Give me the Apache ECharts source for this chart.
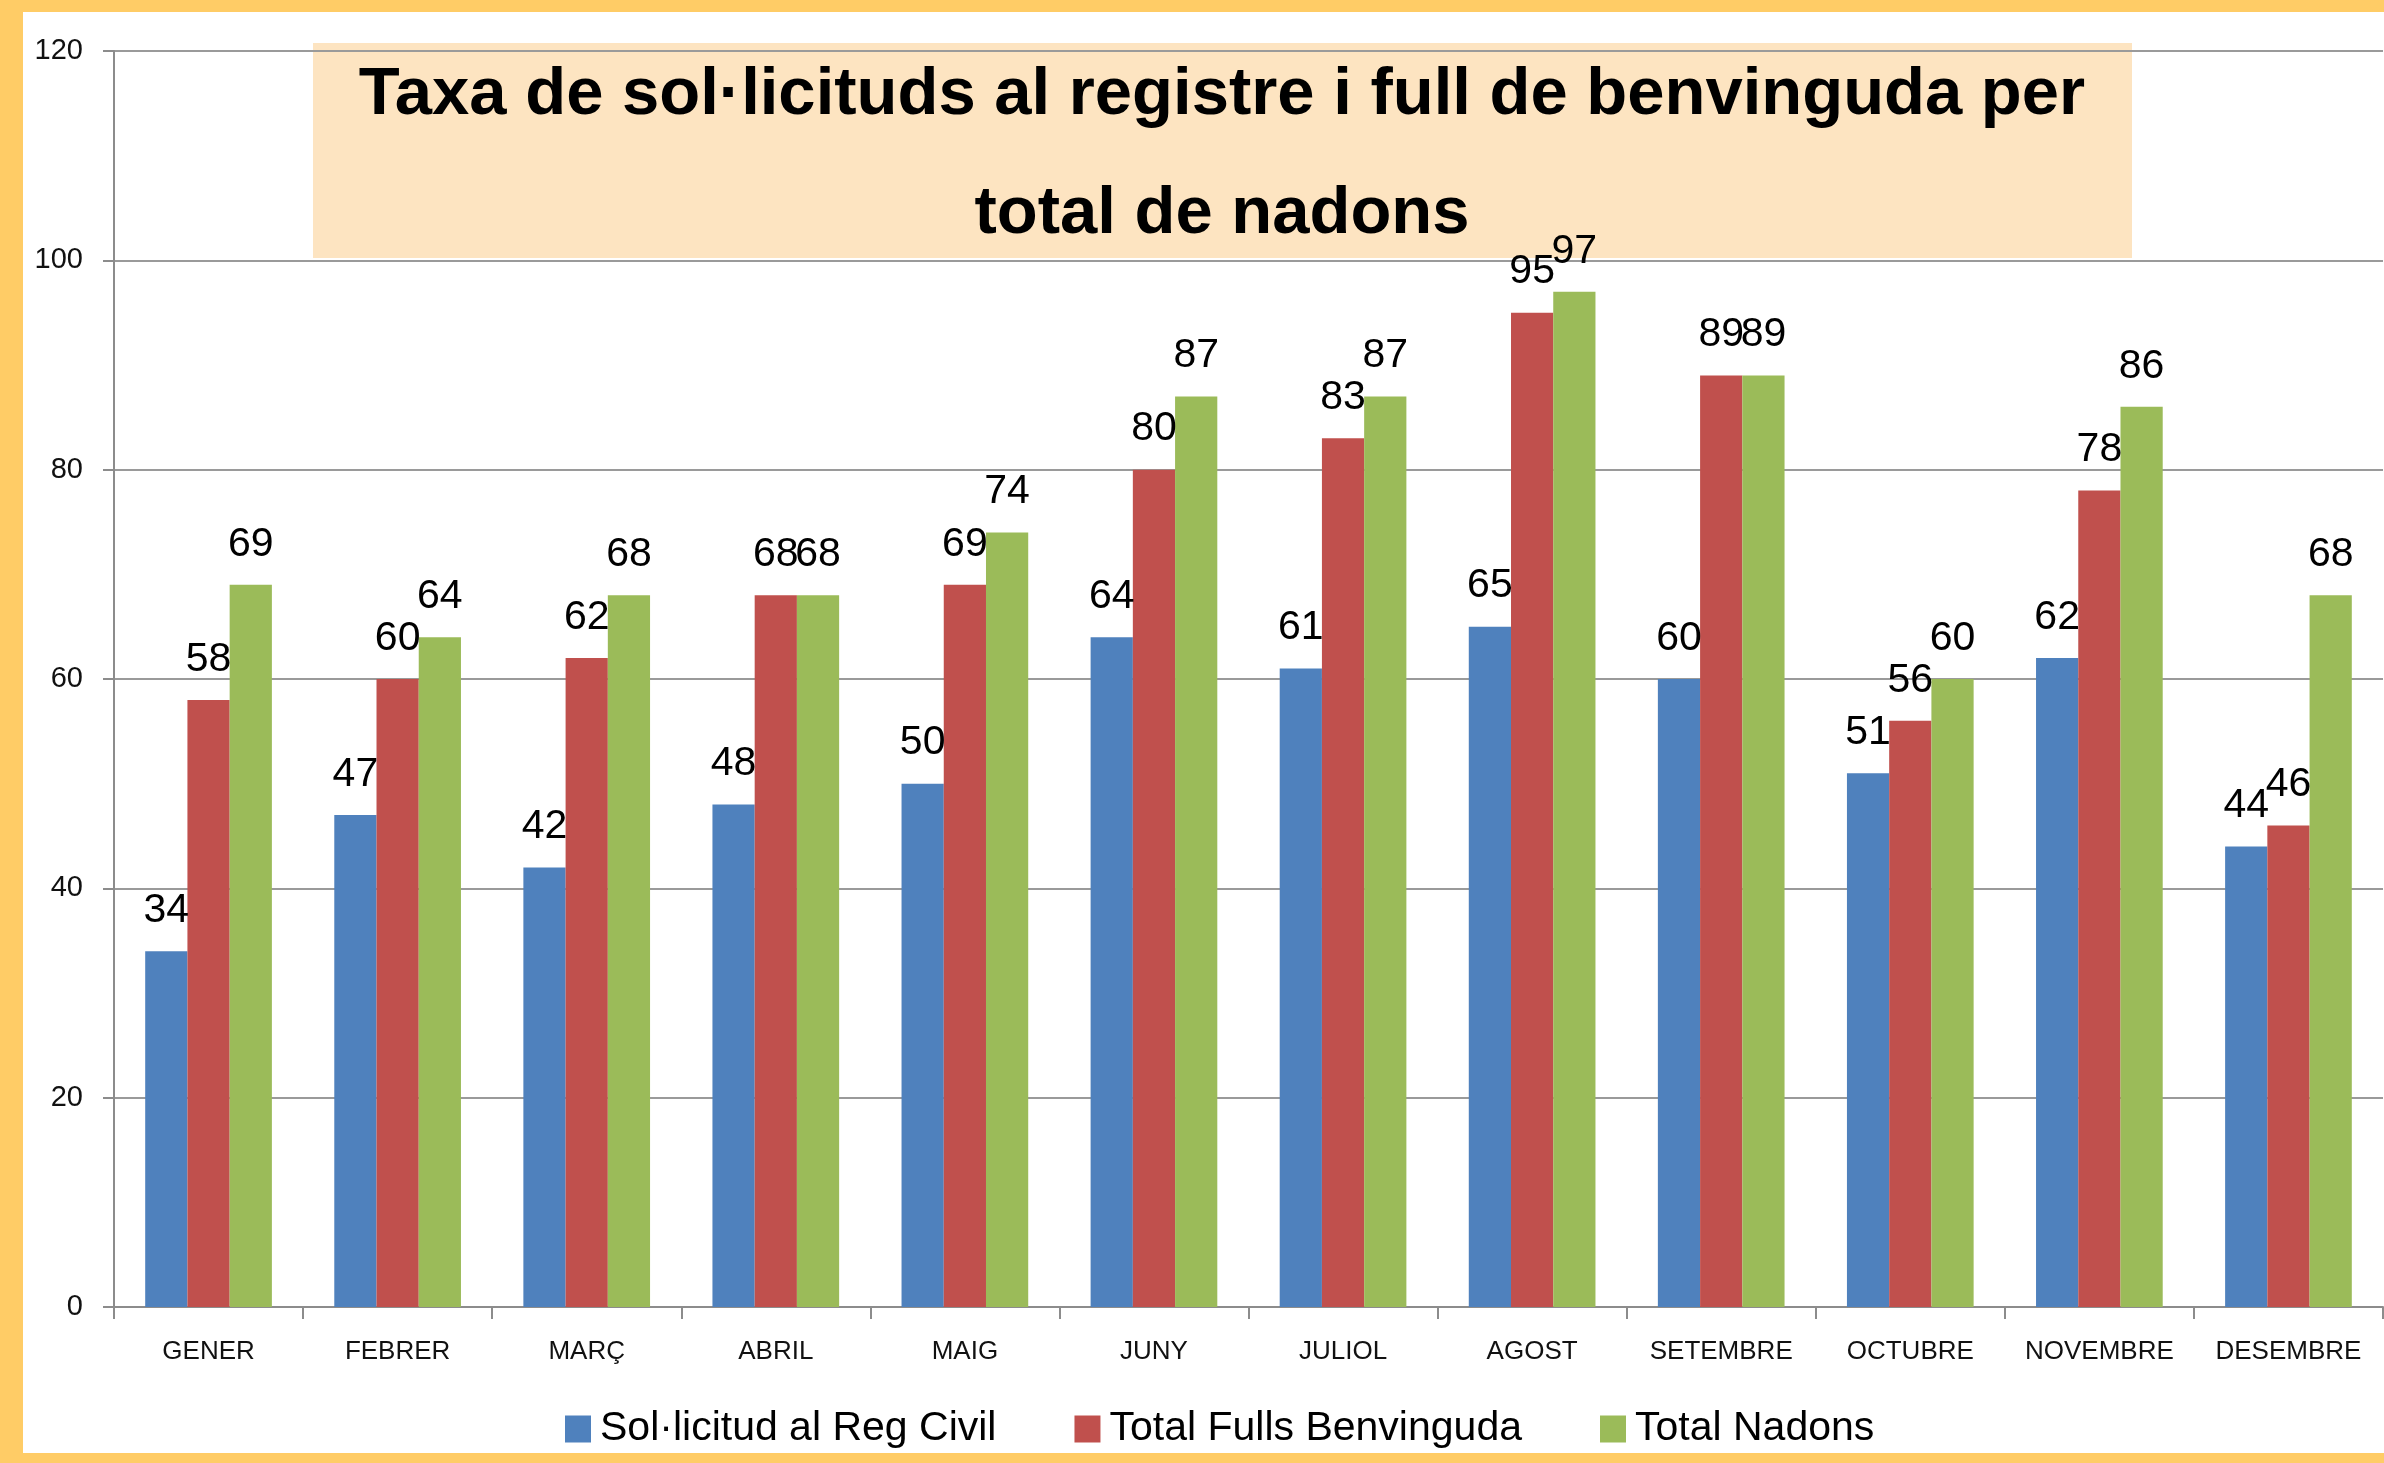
<!DOCTYPE html>
<html>
<head>
<meta charset="utf-8">
<script src="https://cdn.jsdelivr.net/npm/echarts@6/dist/echarts.min.js"></script>
<style>
html,body{margin:0;padding:0;background:#fff;}
#chart{width:2384px;height:1463px;}
</style>
</head>
<body>
<div id="chart"></div>
<script>
const months = ['GENER','FEBRER','MARÇ','ABRIL','MAIG','JUNY','JULIOL','AGOST','SETEMBRE','OCTUBRE','NOVEMBRE','DESEMBRE'];
const seriesNames = ['Sol·licitud al Reg Civil','Total Fulls Benvinguda','Total Nadons'];
const solicitud = [34,47,42,48,50,64,61,65,60,51,62,44];
const fulls = [58,60,62,68,69,80,83,95,89,56,78,46];
const nadons = [69,64,68,68,74,87,87,97,89,60,86,68];
const colors = ['#4F81BD','#C0504D','#9BBB59'];
const titleText = 'Taxa de sol·licituds al registre i full de benvinguda per\ntotal de nadons';

const FONT = '"Liberation Sans", Arial, sans-serif';
const chart = echarts.init(document.getElementById('chart'), null, {renderer:'canvas'});

function mkSeries(name, data, color){
  return {
    name: name, type: 'bar', data: data,
    barGap: '0%', barCategoryGap: '33%',
    itemStyle: {color: color},
    label: {show: true, position: 'top', distance: 20, fontSize: 41, color: '#000', fontFamily: FONT},
    z: 2
  };
}

chart.setOption({
  backgroundColor: '#fff',
  animation: false,
  textStyle: {fontFamily: FONT},
  grid: {left: 114, right: 1, top: 51, bottom: 156, containLabel: false},
  xAxis: {
    type: 'category', data: months,
    axisLine: {lineStyle: {color: '#8c8c8c', width: 2}},
    axisTick: {show: true, length: 12, lineStyle: {color: '#8c8c8c', width: 2}},
    axisLabel: {fontSize: 26, color: '#111', margin: 32, fontFamily: FONT, interval: 0}
  },
  yAxis: {
    type: 'value', min: 0, max: 120, interval: 20,
    axisLine: {show: true, lineStyle: {color: '#8c8c8c', width: 2}},
    axisTick: {show: true, length: 11, lineStyle: {color: '#8c8c8c', width: 2}},
    splitLine: {lineStyle: {color: '#9a9a9a', width: 2}},
    axisLabel: {fontSize: 29, color: '#111', margin: 31, fontFamily: FONT}
  },
  legend: {
    left: 565, top: 1406, padding: 0,
    itemWidth: 26, itemHeight: 27, itemGap: 78,
    icon: 'rect',
    textStyle: {fontSize: 41, color: '#000', fontFamily: FONT, padding: [0,0,0,4], lineHeight: 46},
    data: seriesNames
  },
  graphic: [
    {type: 'rect', z: -10, silent: true, shape: {x: 313, y: 43, width: 1819, height: 215}, style: {fill: '#FDE4C1'}},
    {type: 'text', z: 100, silent: true, style: {
      text: titleText, x: 1222, y: 155, align: 'center', verticalAlign: 'middle',
      fontSize: 67, fontWeight: 'bold', fontFamily: FONT, lineHeight: 119, fill: '#000'}},
    {type: 'rect', z: 100, silent: true, shape: {x: 0, y: 0, width: 23, height: 1463}, style: {fill: '#FFCC66'}},
    {type: 'rect', z: 100, silent: true, shape: {x: 0, y: 0, width: 2384, height: 12}, style: {fill: '#FFCC66'}},
    {type: 'rect', z: 100, silent: true, shape: {x: 0, y: 1453, width: 2384, height: 10}, style: {fill: '#FFCC66'}}
  ],
  series: [
    mkSeries(seriesNames[0], solicitud, colors[0]),
    mkSeries(seriesNames[1], fulls, colors[1]),
    mkSeries(seriesNames[2], nadons, colors[2])
  ]
});
</script>
</body>
</html>
